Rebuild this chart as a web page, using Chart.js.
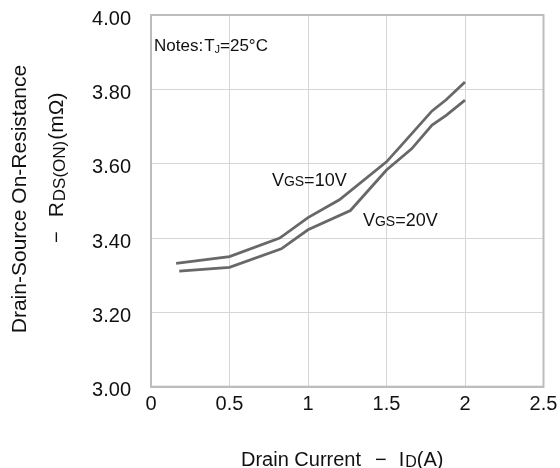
<!DOCTYPE html>
<html>
<head>
<meta charset="utf-8">
<script src="https://cdn.jsdelivr.net/npm/chart.js@4/dist/chart.umd.min.js"></script>
<style>
  html, body { margin: 0; padding: 0; background: #ffffff; }
  #wrap { width: 560px; height: 468px; }
</style>
</head>
<body>
<div id="wrap"><canvas id="c" width="560" height="468"></canvas></div>
<script>
// ---- data ----
const currentVgs10 = [0.16, 0.5, 0.82, 1.0, 1.2, 1.5, 1.6, 1.79, 1.88, 2.0];
const rdsVgs10     = [3.332, 3.350, 3.400, 3.455, 3.503, 3.605, 3.652, 3.742, 3.772, 3.820];
const currentVgs20 = [0.18, 0.5, 0.83, 1.0, 1.27, 1.5, 1.66, 1.79, 1.88, 2.0];
const rdsVgs20     = [3.311, 3.321, 3.371, 3.422, 3.474, 3.583, 3.640, 3.704, 3.730, 3.771];
const xTickLabels = ['0', '0.5', '1', '1.5', '2', '2.5'];
const yTickLabels = ['3.00', '3.20', '3.40', '3.60', '3.80', '4.00'];
const seriesNames = ['VGS=10V', 'VGS=20V'];

const FONT = '"Liberation Sans", Arial, Helvetica, sans-serif';

function pts(xs, ys) { return xs.map((x, i) => ({ x: x, y: ys[i] })); }

// draw a run of text pieces (normal / subscript) along a baseline
function drawRuns(ctx, runs, x, y) {
  let cx = x;
  runs.forEach(r => {
    ctx.font = r.size + 'px ' + FONT;
    ctx.fillText(r.t, cx, y + (r.dy || 0));
    cx += ctx.measureText(r.t).width + (r.gap || 0);
  });
  return cx;
}

const textPlugin = {
  id: 'texts',
  beforeDatasetsDraw(chart) {
    const ctx = chart.ctx, a = chart.chartArea;
    ctx.save();
    ctx.strokeStyle = '#bdbdbd';
    ctx.lineWidth = 2;
    ctx.strokeRect(a.left, a.top, a.right - a.left, a.bottom - a.top);
    ctx.restore();
  },
  afterDraw(chart) {
    const ctx = chart.ctx, a = chart.chartArea;
    const xs = chart.scales.x, ys = chart.scales.y;
    ctx.save();
    ctx.fillStyle = '#111';
    ctx.textBaseline = 'alphabetic';
    ctx.textAlign = 'left';

    // note inside plot
    drawRuns(ctx, [
      { t: 'Notes:', size: 17, gap: 1 },
      { t: 'T', size: 17 },
      { t: 'J', size: 11, dy: 2 },
      { t: '=25°C', size: 17 }
    ], a.left + 3, a.top + 36);

    // series labels
    drawRuns(ctx, [
      { t: 'V', size: 18 }, { t: 'GS', size: 14 }, { t: '=10V', size: 18 }
    ], xs.getPixelForValue(0.77), ys.getPixelForValue(3.541));
    drawRuns(ctx, [
      { t: 'V', size: 18 }, { t: 'GS', size: 14 }, { t: '=20V', size: 18 }
    ], xs.getPixelForValue(1.35), ys.getPixelForValue(3.433));

    // x axis title
    drawRuns(ctx, [
      { t: 'Drain Current', size: 20, gap: 14 },
      { t: '\u2212', size: 20, gap: 12 },
      { t: 'I', size: 20, gap: 1 },
      { t: 'D', size: 16, dy: 1 },
      { t: '(A)', size: 20 }
    ], 241, 466);

    // y axis title (rotated)
    ctx.save();
    ctx.translate(25.5, 199);
    ctx.rotate(-Math.PI / 2);
    ctx.font = '21px ' + FONT;
    ctx.textAlign = 'center';
    ctx.fillText('Drain-Source On-Resistance', 0, 0);
    ctx.restore();

    ctx.save();
    ctx.translate(63, 243);
    ctx.rotate(-Math.PI / 2);
    ctx.textAlign = 'left';
    drawRuns(ctx, [
      { t: '\u2212', size: 20, gap: 14 },
      { t: 'R', size: 21, gap: 1 },
      { t: 'DS(ON)', size: 17, dy: 2, gap: 1 },
      { t: '(m\u03A9)', size: 21 }
    ], 0, 0);
    ctx.restore();

    ctx.restore();
  }
};

new Chart(document.getElementById('c'), {
  type: 'line',
  data: {
    datasets: [
      { label: seriesNames[0], data: pts(currentVgs10, rdsVgs10), borderColor: '#686868', borderWidth: 2.8, pointRadius: 0, tension: 0, fill: false },
      { label: seriesNames[1], data: pts(currentVgs20, rdsVgs20), borderColor: '#686868', borderWidth: 2.8, pointRadius: 0, tension: 0, fill: false }
    ]
  },
  options: {
    responsive: false,
    devicePixelRatio: 1,
    animation: false,
    layout: { padding: { top: 15, right: 16.5, left: 0, bottom: 0 } },
    plugins: { legend: { display: false }, tooltip: { enabled: false }, title: { display: false } },
    scales: {
      x: {
        type: 'linear', min: 0, max: 2.5,
        ticks: {
          stepSize: 0.5, padding: 6, color: '#111',
          font: { family: FONT, size: 20 },
          callback: (v, i) => xTickLabels[i]
        },
        grid: { color: '#d6d6d6', lineWidth: 1, drawTicks: false },
        border: { color: '#bdbdbd', width: 2 },
        afterFit: s => { s.height = 81.3; s.paddingLeft = 0; s.paddingRight = 0; }
      },
      y: {
        type: 'linear', min: 3, max: 4,
        ticks: {
          stepSize: 0.2, padding: 20, color: '#111', labelOffset: 4,
          font: { family: FONT, size: 20 },
          callback: (v, i) => yTickLabels[i]
        },
        grid: { color: '#d6d6d6', lineWidth: 1, drawTicks: false },
        border: { color: '#bdbdbd', width: 2 },
        afterFit: s => { s.width = 151; s.paddingTop = 0; s.paddingBottom = 0; }
      }
    }
  },
  plugins: [textPlugin]
});
</script>
</body>
</html>
